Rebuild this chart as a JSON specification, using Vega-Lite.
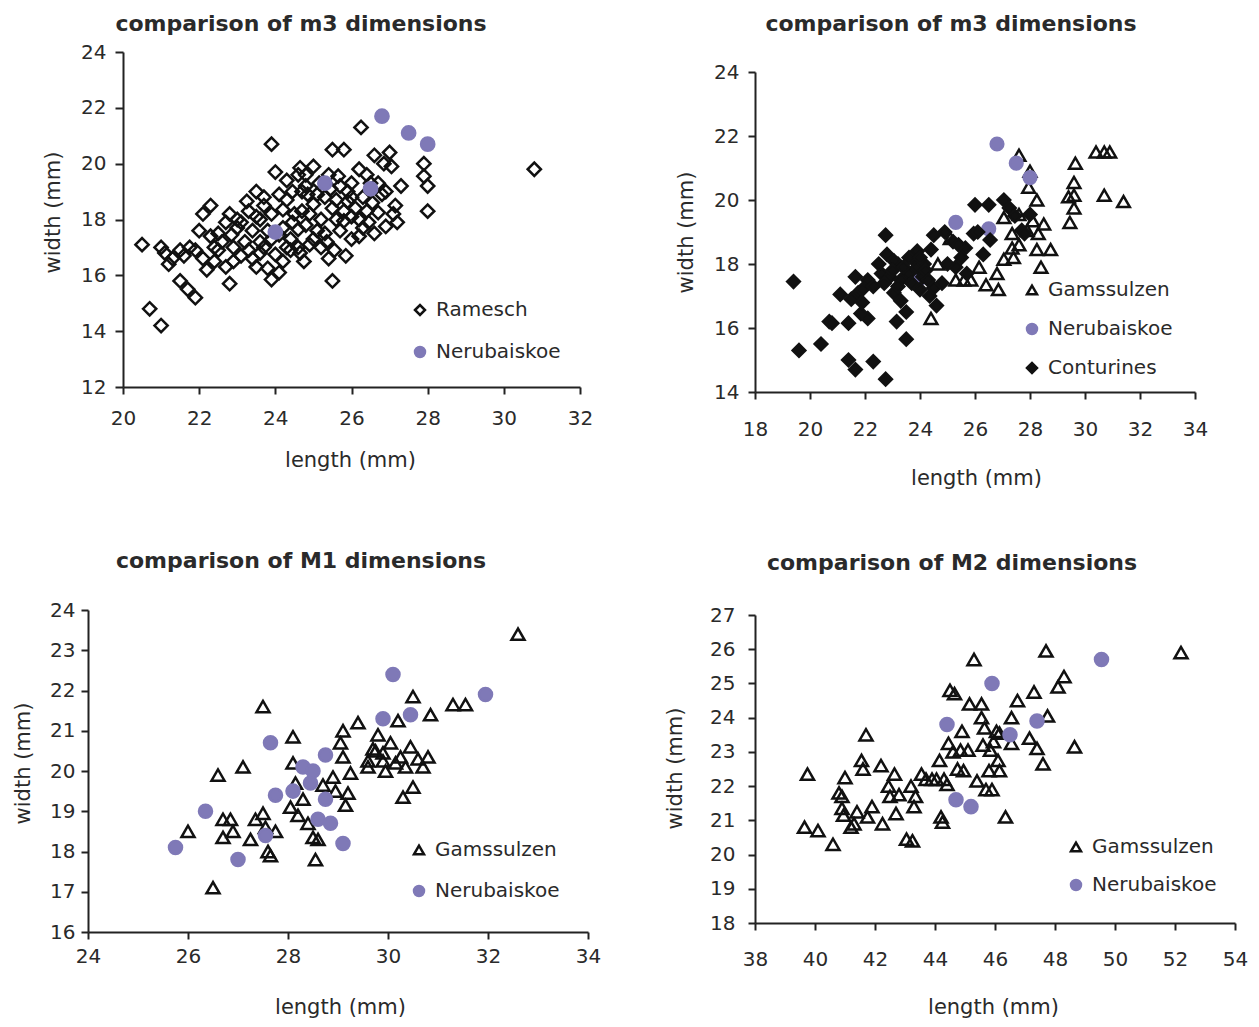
{
"$schema": "https://vega.github.io/schema/vega-lite/v6.json",
"autosize": {"type": "none"},
"padding": {"left": 88, "top": 52, "right": 1171, "bottom": 975},
"background": "white",
"config": {
  "view": {"stroke": null},
  "font": "DejaVu Sans",
  "axis": {"domainColor": "#222222", "domainWidth": 2, "tickColor": "#222222", "tickWidth": 2, "tickSize": 7, "labelFont": "DejaVu Sans", "labelFontSize": 20, "labelColor": "#2a2a2a", "titleFont": "DejaVu Sans", "titleFontSize": 21, "titleFontWeight": "normal", "titleColor": "#2a2a2a", "grid": false, "labelFlush": false, "labelOverlap": false, "titleBaseline": "middle"},
  "title": {"font": "DejaVu Sans", "fontSize": 22, "fontWeight": "bold", "color": "#2a2a2a", "anchor": "middle", "frame": "group"},
  "legend": {"orient": "none", "title": null, "labelFont": "DejaVu Sans", "labelFontSize": 20, "labelColor": "#2a2a2a", "symbolSize": 100, "symbolStrokeWidth": 2.5, "padding": 0, "labelOffset": 6}
},
"datasets": {
  "p1": [
    {"series":"Ramesch","length":20.5,"width":17.1},{"series":"Ramesch","length":20.7,"width":14.8},{"series":"Ramesch","length":21.0,"width":14.2},{"series":"Ramesch","length":21.0,"width":17.0},{"series":"Ramesch","length":21.1,"width":16.8},{"series":"Ramesch","length":21.2,"width":16.4},{"series":"Ramesch","length":21.5,"width":16.9},{"series":"Ramesch","length":21.6,"width":16.7},{"series":"Ramesch","length":21.5,"width":15.8},{"series":"Ramesch","length":21.7,"width":15.5},{"series":"Ramesch","length":21.9,"width":15.2},{"series":"Ramesch","length":21.75,"width":17.0},{"series":"Ramesch","length":22.0,"width":17.6},{"series":"Ramesch","length":22.1,"width":18.2},{"series":"Ramesch","length":22.3,"width":18.5},{"series":"Ramesch","length":22.1,"width":16.6},{"series":"Ramesch","length":22.2,"width":16.2},{"series":"Ramesch","length":22.3,"width":17.4},{"series":"Ramesch","length":22.5,"width":16.9},{"series":"Ramesch","length":22.7,"width":17.9},{"series":"Ramesch","length":22.7,"width":16.3},{"series":"Ramesch","length":22.8,"width":15.7},{"series":"Ramesch","length":22.85,"width":17.45},{"series":"Ramesch","length":23.0,"width":17.7},{"series":"Ramesch","length":23.1,"width":16.7},{"series":"Ramesch","length":23.25,"width":18.65},{"series":"Ramesch","length":23.5,"width":19.0},{"series":"Ramesch","length":23.7,"width":18.8},{"series":"Ramesch","length":23.5,"width":18.1},{"series":"Ramesch","length":23.4,"width":17.6},{"series":"Ramesch","length":23.5,"width":16.3},{"series":"Ramesch","length":23.6,"width":17.2},{"series":"Ramesch","length":23.8,"width":16.25},{"series":"Ramesch","length":23.9,"width":15.85},{"series":"Ramesch","length":23.9,"width":20.7},{"series":"Ramesch","length":24.0,"width":19.7},{"series":"Ramesch","length":24.0,"width":16.75},{"series":"Ramesch","length":24.1,"width":17.45},{"series":"Ramesch","length":24.2,"width":18.35},{"series":"Ramesch","length":24.3,"width":17.0},{"series":"Ramesch","length":24.45,"width":17.9},{"series":"Ramesch","length":24.45,"width":19.0},{"series":"Ramesch","length":24.6,"width":19.6},{"series":"Ramesch","length":24.6,"width":17.65},{"series":"Ramesch","length":24.65,"width":16.8},{"series":"Ramesch","length":24.75,"width":16.5},{"series":"Ramesch","length":24.65,"width":19.85},{"series":"Ramesch","length":24.8,"width":19.6},{"series":"Ramesch","length":24.85,"width":18.9},{"series":"Ramesch","length":24.9,"width":18.2},{"series":"Ramesch","length":25.0,"width":18.55},{"series":"Ramesch","length":25.1,"width":17.6},{"series":"Ramesch","length":25.15,"width":19.3},{"series":"Ramesch","length":25.35,"width":17.2},{"series":"Ramesch","length":25.45,"width":19.1},{"series":"Ramesch","length":25.5,"width":18.4},{"series":"Ramesch","length":25.5,"width":20.5},{"series":"Ramesch","length":25.5,"width":15.8},{"series":"Ramesch","length":25.55,"width":16.9},{"series":"Ramesch","length":25.65,"width":19.55},{"series":"Ramesch","length":25.8,"width":20.5},{"series":"Ramesch","length":25.8,"width":17.95},{"series":"Ramesch","length":25.85,"width":16.7},{"series":"Ramesch","length":25.9,"width":18.65},{"series":"Ramesch","length":26.0,"width":19.3},{"series":"Ramesch","length":26.0,"width":17.3},{"series":"Ramesch","length":26.1,"width":18.4},{"series":"Ramesch","length":26.25,"width":21.3},{"series":"Ramesch","length":26.3,"width":17.7},{"series":"Ramesch","length":26.4,"width":19.6},{"series":"Ramesch","length":26.45,"width":17.9},{"series":"Ramesch","length":26.55,"width":18.6},{"series":"Ramesch","length":26.6,"width":20.3},{"series":"Ramesch","length":26.7,"width":18.25},{"series":"Ramesch","length":26.8,"width":18.9},{"series":"Ramesch","length":26.85,"width":20.0},{"series":"Ramesch","length":26.9,"width":17.75},{"series":"Ramesch","length":27.0,"width":20.4},{"series":"Ramesch","length":27.05,"width":19.9},{"series":"Ramesch","length":27.1,"width":18.2},{"series":"Ramesch","length":27.15,"width":18.5},{"series":"Ramesch","length":27.3,"width":19.2},{"series":"Ramesch","length":27.9,"width":20.0},{"series":"Ramesch","length":27.9,"width":19.55},{"series":"Ramesch","length":28.0,"width":19.2},{"series":"Ramesch","length":28.0,"width":18.3},{"series":"Ramesch","length":30.8,"width":19.8},
    {"series":"Ramesch","length":23.2,"width":17.2},{"series":"Ramesch","length":23.3,"width":16.9},{"series":"Ramesch","length":23.6,"width":16.8},{"series":"Ramesch","length":23.8,"width":17.6},{"series":"Ramesch","length":24.2,"width":16.5},{"series":"Ramesch","length":24.4,"width":17.3},{"series":"Ramesch","length":24.7,"width":18.3},{"series":"Ramesch","length":24.9,"width":17.1},{"series":"Ramesch","length":25.2,"width":18.0},{"series":"Ramesch","length":25.3,"width":18.8},{"series":"Ramesch","length":25.6,"width":18.0},{"series":"Ramesch","length":25.7,"width":17.6},{"series":"Ramesch","length":25.9,"width":19.0},{"series":"Ramesch","length":26.2,"width":18.0},{"series":"Ramesch","length":26.0,"width":18.8},{"series":"Ramesch","length":24.3,"width":18.7},{"series":"Ramesch","length":23.9,"width":18.2},{"series":"Ramesch","length":24.8,"width":19.2},{"series":"Ramesch","length":22.5,"width":17.5},{"series":"Ramesch","length":22.9,"width":17.0},{"series":"Ramesch","length":23.0,"width":18.0},{"series":"Ramesch","length":25.0,"width":19.9},{"series":"Ramesch","length":26.5,"width":19.3},{"series":"Ramesch","length":26.2,"width":19.8},{"series":"Ramesch","length":27.2,"width":17.9},{"series":"Ramesch","length":23.7,"width":17.0},{"series":"Ramesch","length":24.1,"width":16.1},{"series":"Ramesch","length":25.4,"width":16.6},{"series":"Ramesch","length":26.6,"width":17.5},{"series":"Ramesch","length":24.5,"width":18.2},
    {"series":"Ramesch","length":22.4,"width":17.0},{"series":"Ramesch","length":22.6,"width":17.2},{"series":"Ramesch","length":22.9,"width":16.5},{"series":"Ramesch","length":23.1,"width":17.9},{"series":"Ramesch","length":23.3,"width":18.3},{"series":"Ramesch","length":23.4,"width":16.6},{"series":"Ramesch","length":23.7,"width":18.5},{"series":"Ramesch","length":23.9,"width":17.3},{"series":"Ramesch","length":24.1,"width":18.9},{"series":"Ramesch","length":24.2,"width":17.7},{"series":"Ramesch","length":24.4,"width":16.9},{"series":"Ramesch","length":24.6,"width":17.0},{"series":"Ramesch","length":24.7,"width":19.0},{"series":"Ramesch","length":24.8,"width":17.8},{"series":"Ramesch","length":25.0,"width":17.3},{"series":"Ramesch","length":25.1,"width":18.9},{"series":"Ramesch","length":25.2,"width":17.0},{"series":"Ramesch","length":25.3,"width":17.5},{"series":"Ramesch","length":25.4,"width":19.6},{"series":"Ramesch","length":25.6,"width":18.7},{"series":"Ramesch","length":25.7,"width":19.2},{"series":"Ramesch","length":25.8,"width":18.3},{"series":"Ramesch","length":26.0,"width":18.1},{"series":"Ramesch","length":26.2,"width":17.4},{"series":"Ramesch","length":26.3,"width":18.8},{"series":"Ramesch","length":26.4,"width":18.3},{"series":"Ramesch","length":26.7,"width":19.3},{"series":"Ramesch","length":26.9,"width":19.0},{"series":"Ramesch","length":24.3,"width":19.4},{"series":"Ramesch","length":23.6,"width":18.0},{"series":"Ramesch","length":22.8,"width":18.2},{"series":"Ramesch","length":22.4,"width":16.5},{"series":"Ramesch","length":21.9,"width":16.9},{"series":"Ramesch","length":21.3,"width":16.6},
    {"series":"Nerubaiskoe","length":26.8,"width":21.7},{"series":"Nerubaiskoe","length":27.5,"width":21.1},{"series":"Nerubaiskoe","length":28.0,"width":20.7},{"series":"Nerubaiskoe","length":25.3,"width":19.3},{"series":"Nerubaiskoe","length":26.5,"width":19.1},{"series":"Nerubaiskoe","length":24.0,"width":17.55}
  ],
  "p2": [
    {"series":"Gamssulzen","length":24.4,"width":16.3},{"series":"Gamssulzen","length":24.65,"width":18.0},{"series":"Gamssulzen","length":25.1,"width":18.8},{"series":"Gamssulzen","length":25.3,"width":17.5},{"series":"Gamssulzen","length":25.6,"width":17.5},{"series":"Gamssulzen","length":25.85,"width":17.5},{"series":"Gamssulzen","length":26.15,"width":17.9},{"series":"Gamssulzen","length":26.4,"width":17.35},{"series":"Gamssulzen","length":26.85,"width":17.2},{"series":"Gamssulzen","length":26.8,"width":17.7},{"series":"Gamssulzen","length":27.05,"width":18.15},{"series":"Gamssulzen","length":27.05,"width":19.45},{"series":"Gamssulzen","length":27.35,"width":18.5},{"series":"Gamssulzen","length":27.35,"width":18.95},{"series":"Gamssulzen","length":27.6,"width":19.55},{"series":"Gamssulzen","length":27.6,"width":18.6},{"series":"Gamssulzen","length":27.9,"width":19.05},{"series":"Gamssulzen","length":28.1,"width":19.35},{"series":"Gamssulzen","length":28.25,"width":20.0},{"series":"Gamssulzen","length":28.3,"width":18.95},{"series":"Gamssulzen","length":28.25,"width":18.45},{"series":"Gamssulzen","length":28.4,"width":17.9},{"series":"Gamssulzen","length":28.75,"width":18.45},{"series":"Gamssulzen","length":29.4,"width":20.1},{"series":"Gamssulzen","length":29.45,"width":19.3},{"series":"Gamssulzen","length":29.6,"width":19.75},{"series":"Gamssulzen","length":29.6,"width":20.55},{"series":"Gamssulzen","length":29.65,"width":21.15},{"series":"Gamssulzen","length":29.6,"width":20.15},{"series":"Gamssulzen","length":30.4,"width":21.5},{"series":"Gamssulzen","length":30.7,"width":21.5},{"series":"Gamssulzen","length":30.9,"width":21.5},{"series":"Gamssulzen","length":30.7,"width":20.15},{"series":"Gamssulzen","length":31.4,"width":19.95},{"series":"Gamssulzen","length":28.5,"width":19.25},{"series":"Gamssulzen","length":27.95,"width":20.4},{"series":"Gamssulzen","length":27.4,"width":18.2},{"series":"Gamssulzen","length":27.6,"width":21.4},{"series":"Gamssulzen","length":28.0,"width":20.9},
    {"series":"Nerubaiskoe","length":26.8,"width":21.75},{"series":"Nerubaiskoe","length":27.5,"width":21.15},{"series":"Nerubaiskoe","length":28.0,"width":20.7},{"series":"Nerubaiskoe","length":25.3,"width":19.3},{"series":"Nerubaiskoe","length":26.5,"width":19.1},{"series":"Nerubaiskoe","length":24.0,"width":17.55},
    {"series":"Conturines","length":19.4,"width":17.45},{"series":"Conturines","length":19.6,"width":15.3},{"series":"Conturines","length":20.4,"width":15.5},{"series":"Conturines","length":20.7,"width":16.2},{"series":"Conturines","length":20.8,"width":16.15},{"series":"Conturines","length":21.1,"width":17.05},{"series":"Conturines","length":21.4,"width":15.0},{"series":"Conturines","length":21.4,"width":16.15},{"series":"Conturines","length":21.65,"width":14.7},{"series":"Conturines","length":21.65,"width":17.6},{"series":"Conturines","length":21.5,"width":16.9},{"series":"Conturines","length":21.85,"width":16.45},{"series":"Conturines","length":22.1,"width":16.3},{"series":"Conturines","length":22.3,"width":14.95},{"series":"Conturines","length":22.1,"width":17.5},{"series":"Conturines","length":21.75,"width":17.1},{"series":"Conturines","length":22.75,"width":14.4},{"series":"Conturines","length":22.75,"width":18.9},{"series":"Conturines","length":22.6,"width":17.7},{"series":"Conturines","length":23.15,"width":16.2},{"series":"Conturines","length":23.5,"width":15.65},{"series":"Conturines","length":23.2,"width":18.0},{"series":"Conturines","length":23.05,"width":17.1},{"series":"Conturines","length":23.3,"width":16.85},{"series":"Conturines","length":23.5,"width":16.5},{"series":"Conturines","length":23.6,"width":17.7},{"series":"Conturines","length":23.8,"width":18.1},{"series":"Conturines","length":23.9,"width":18.4},{"series":"Conturines","length":23.9,"width":17.9},{"series":"Conturines","length":24.1,"width":17.6},{"series":"Conturines","length":24.0,"width":17.2},{"series":"Conturines","length":24.15,"width":18.0},{"series":"Conturines","length":24.4,"width":18.45},{"series":"Conturines","length":24.35,"width":17.0},{"series":"Conturines","length":24.6,"width":16.7},{"series":"Conturines","length":24.5,"width":17.25},{"series":"Conturines","length":24.9,"width":19.0},{"series":"Conturines","length":25.2,"width":18.7},{"series":"Conturines","length":25.3,"width":17.9},{"series":"Conturines","length":25.5,"width":18.2},{"series":"Conturines","length":25.65,"width":18.5},{"series":"Conturines","length":25.7,"width":17.7},{"series":"Conturines","length":26.0,"width":19.85},{"series":"Conturines","length":25.95,"width":18.95},{"series":"Conturines","length":26.3,"width":18.3},{"series":"Conturines","length":26.5,"width":19.85},{"series":"Conturines","length":26.55,"width":18.75},{"series":"Conturines","length":27.05,"width":20.0},{"series":"Conturines","length":27.25,"width":19.75},{"series":"Conturines","length":27.45,"width":19.5},{"series":"Conturines","length":27.7,"width":19.05},{"series":"Conturines","length":27.8,"width":18.95},{"series":"Conturines","length":28.0,"width":19.55},{"series":"Conturines","length":22.8,"width":18.3},{"series":"Conturines","length":23.05,"width":18.1},{"series":"Conturines","length":21.9,"width":17.2},{"series":"Conturines","length":22.5,"width":18.0},{"series":"Conturines","length":24.2,"width":17.8},{"series":"Conturines","length":25.0,"width":18.0},{"series":"Conturines","length":22.9,"width":17.6},{"series":"Conturines","length":23.3,"width":17.5},{"series":"Conturines","length":23.6,"width":18.2},{"series":"Conturines","length":22.3,"width":17.3},{"series":"Conturines","length":24.5,"width":18.9},{"series":"Conturines","length":25.4,"width":18.6},{"series":"Conturines","length":26.1,"width":19.0},{"series":"Conturines","length":24.8,"width":17.4},{"series":"Conturines","length":21.9,"width":16.8},{"series":"Conturines","length":23.0,"width":17.8},{"series":"Conturines","length":23.4,"width":17.9},{"series":"Conturines","length":23.7,"width":17.4},{"series":"Conturines","length":22.7,"width":17.4},{"series":"Conturines","length":24.3,"width":17.5},{"series":"Conturines","length":23.2,"width":17.3},{"series":"Conturines","length":24.0,"width":18.2}
  ],
  "p3": [
    {"series":"Gamssulzen","length":26.0,"width":18.5},{"series":"Gamssulzen","length":26.5,"width":17.1},{"series":"Gamssulzen","length":26.6,"width":19.9},{"series":"Gamssulzen","length":26.7,"width":18.8},{"series":"Gamssulzen","length":26.7,"width":18.35},{"series":"Gamssulzen","length":26.85,"width":18.8},{"series":"Gamssulzen","length":26.9,"width":18.5},{"series":"Gamssulzen","length":27.1,"width":20.1},{"series":"Gamssulzen","length":27.25,"width":18.3},{"series":"Gamssulzen","length":27.35,"width":18.8},{"series":"Gamssulzen","length":27.5,"width":21.6},{"series":"Gamssulzen","length":27.5,"width":18.95},{"series":"Gamssulzen","length":27.55,"width":18.6},{"series":"Gamssulzen","length":27.6,"width":18.0},{"series":"Gamssulzen","length":27.65,"width":17.9},{"series":"Gamssulzen","length":27.75,"width":18.5},{"series":"Gamssulzen","length":28.05,"width":19.1},{"series":"Gamssulzen","length":28.1,"width":20.85},{"series":"Gamssulzen","length":28.1,"width":20.2},{"series":"Gamssulzen","length":28.15,"width":19.7},{"series":"Gamssulzen","length":28.2,"width":18.9},{"series":"Gamssulzen","length":28.3,"width":19.3},{"series":"Gamssulzen","length":28.4,"width":18.7},{"series":"Gamssulzen","length":28.5,"width":18.35},{"series":"Gamssulzen","length":28.55,"width":17.8},{"series":"Gamssulzen","length":28.6,"width":18.3},{"series":"Gamssulzen","length":28.7,"width":19.65},{"series":"Gamssulzen","length":28.9,"width":19.85},{"series":"Gamssulzen","length":28.95,"width":19.5},{"series":"Gamssulzen","length":29.05,"width":20.7},{"series":"Gamssulzen","length":29.1,"width":21.0},{"series":"Gamssulzen","length":29.1,"width":20.35},{"series":"Gamssulzen","length":29.15,"width":19.15},{"series":"Gamssulzen","length":29.2,"width":19.45},{"series":"Gamssulzen","length":29.25,"width":19.95},{"series":"Gamssulzen","length":29.4,"width":21.2},{"series":"Gamssulzen","length":29.6,"width":20.25},{"series":"Gamssulzen","length":29.7,"width":20.55},{"series":"Gamssulzen","length":29.8,"width":20.9},{"series":"Gamssulzen","length":29.9,"width":20.25},{"series":"Gamssulzen","length":29.95,"width":20.0},{"series":"Gamssulzen","length":30.05,"width":20.7},{"series":"Gamssulzen","length":30.15,"width":20.2},{"series":"Gamssulzen","length":30.2,"width":21.25},{"series":"Gamssulzen","length":30.25,"width":20.35},{"series":"Gamssulzen","length":30.3,"width":19.35},{"series":"Gamssulzen","length":30.35,"width":20.1},{"series":"Gamssulzen","length":30.45,"width":20.6},{"series":"Gamssulzen","length":30.5,"width":19.6},{"series":"Gamssulzen","length":30.5,"width":21.85},{"series":"Gamssulzen","length":30.6,"width":20.3},{"series":"Gamssulzen","length":30.7,"width":20.1},{"series":"Gamssulzen","length":30.8,"width":20.35},{"series":"Gamssulzen","length":30.85,"width":21.4},{"series":"Gamssulzen","length":31.3,"width":21.65},{"series":"Gamssulzen","length":31.55,"width":21.65},{"series":"Gamssulzen","length":32.6,"width":23.4},{"series":"Gamssulzen","length":29.6,"width":20.1},{"series":"Gamssulzen","length":29.75,"width":20.5},{"series":"Gamssulzen","length":29.9,"width":20.45},
    {"series":"Nerubaiskoe","length":25.75,"width":18.1},{"series":"Nerubaiskoe","length":26.35,"width":19.0},{"series":"Nerubaiskoe","length":27.0,"width":17.8},{"series":"Nerubaiskoe","length":27.55,"width":18.4},{"series":"Nerubaiskoe","length":27.65,"width":20.7},{"series":"Nerubaiskoe","length":27.75,"width":19.4},{"series":"Nerubaiskoe","length":28.1,"width":19.5},{"series":"Nerubaiskoe","length":28.3,"width":20.1},{"series":"Nerubaiskoe","length":28.45,"width":19.7},{"series":"Nerubaiskoe","length":28.5,"width":20.0},{"series":"Nerubaiskoe","length":28.6,"width":18.8},{"series":"Nerubaiskoe","length":28.75,"width":20.4},{"series":"Nerubaiskoe","length":28.75,"width":19.3},{"series":"Nerubaiskoe","length":28.85,"width":18.7},{"series":"Nerubaiskoe","length":29.1,"width":18.2},{"series":"Nerubaiskoe","length":29.9,"width":21.3},{"series":"Nerubaiskoe","length":30.1,"width":22.4},{"series":"Nerubaiskoe","length":30.45,"width":21.4},{"series":"Nerubaiskoe","length":31.95,"width":21.9}
  ],
  "p4": [
    {"series":"Gamssulzen","length":39.75,"width":22.35},{"series":"Gamssulzen","length":39.65,"width":20.8},{"series":"Gamssulzen","length":40.1,"width":20.7},{"series":"Gamssulzen","length":40.6,"width":20.3},{"series":"Gamssulzen","length":40.8,"width":21.8},{"series":"Gamssulzen","length":40.9,"width":21.35},{"series":"Gamssulzen","length":40.95,"width":21.15},{"series":"Gamssulzen","length":41.0,"width":22.25},{"series":"Gamssulzen","length":40.9,"width":21.7},{"series":"Gamssulzen","length":41.2,"width":20.8},{"series":"Gamssulzen","length":41.3,"width":20.9},{"series":"Gamssulzen","length":41.4,"width":21.25},{"series":"Gamssulzen","length":41.55,"width":22.75},{"series":"Gamssulzen","length":41.6,"width":22.5},{"series":"Gamssulzen","length":41.7,"width":23.5},{"series":"Gamssulzen","length":41.75,"width":21.1},{"series":"Gamssulzen","length":41.9,"width":21.4},{"series":"Gamssulzen","length":42.2,"width":22.6},{"series":"Gamssulzen","length":42.25,"width":20.9},{"series":"Gamssulzen","length":42.45,"width":22.0},{"series":"Gamssulzen","length":42.5,"width":21.7},{"series":"Gamssulzen","length":42.65,"width":22.35},{"series":"Gamssulzen","length":42.7,"width":21.2},{"series":"Gamssulzen","length":42.8,"width":21.75},{"series":"Gamssulzen","length":43.05,"width":20.45},{"series":"Gamssulzen","length":43.25,"width":20.4},{"series":"Gamssulzen","length":43.2,"width":22.0},{"series":"Gamssulzen","length":43.3,"width":21.4},{"series":"Gamssulzen","length":43.35,"width":21.7},{"series":"Gamssulzen","length":43.55,"width":22.35},{"series":"Gamssulzen","length":43.7,"width":22.2},{"series":"Gamssulzen","length":43.9,"width":22.2},{"series":"Gamssulzen","length":44.05,"width":22.2},{"series":"Gamssulzen","length":44.15,"width":22.75},{"series":"Gamssulzen","length":44.2,"width":21.1},{"series":"Gamssulzen","length":44.25,"width":20.95},{"series":"Gamssulzen","length":44.3,"width":22.2},{"series":"Gamssulzen","length":44.4,"width":22.05},{"series":"Gamssulzen","length":44.45,"width":23.25},{"series":"Gamssulzen","length":44.5,"width":24.8},{"series":"Gamssulzen","length":44.6,"width":23.0},{"series":"Gamssulzen","length":44.65,"width":24.7},{"series":"Gamssulzen","length":44.75,"width":22.5},{"series":"Gamssulzen","length":44.85,"width":23.05},{"series":"Gamssulzen","length":44.9,"width":23.6},{"series":"Gamssulzen","length":44.95,"width":22.45},{"series":"Gamssulzen","length":45.1,"width":23.05},{"series":"Gamssulzen","length":45.15,"width":24.4},{"series":"Gamssulzen","length":45.3,"width":25.7},{"series":"Gamssulzen","length":45.4,"width":22.15},{"series":"Gamssulzen","length":45.55,"width":24.4},{"series":"Gamssulzen","length":45.55,"width":24.0},{"series":"Gamssulzen","length":45.6,"width":23.2},{"series":"Gamssulzen","length":45.65,"width":23.7},{"series":"Gamssulzen","length":45.7,"width":21.9},{"series":"Gamssulzen","length":45.8,"width":22.45},{"series":"Gamssulzen","length":45.85,"width":23.05},{"series":"Gamssulzen","length":45.9,"width":21.9},{"series":"Gamssulzen","length":45.95,"width":23.3},{"series":"Gamssulzen","length":46.05,"width":23.6},{"series":"Gamssulzen","length":46.1,"width":22.75},{"series":"Gamssulzen","length":46.15,"width":22.45},{"series":"Gamssulzen","length":46.35,"width":21.1},{"series":"Gamssulzen","length":46.55,"width":23.25},{"series":"Gamssulzen","length":46.55,"width":24.0},{"series":"Gamssulzen","length":46.75,"width":24.5},{"series":"Gamssulzen","length":47.15,"width":23.4},{"series":"Gamssulzen","length":47.3,"width":24.75},{"series":"Gamssulzen","length":47.4,"width":23.1},{"series":"Gamssulzen","length":47.6,"width":22.65},{"series":"Gamssulzen","length":47.7,"width":25.95},{"series":"Gamssulzen","length":47.75,"width":24.05},{"series":"Gamssulzen","length":48.1,"width":24.9},{"series":"Gamssulzen","length":48.3,"width":25.2},{"series":"Gamssulzen","length":48.65,"width":23.15},{"series":"Gamssulzen","length":52.2,"width":25.9},{"series":"Gamssulzen","length":46.15,"width":23.55},
    {"series":"Nerubaiskoe","length":44.4,"width":23.8},{"series":"Nerubaiskoe","length":44.7,"width":21.6},{"series":"Nerubaiskoe","length":45.2,"width":21.4},{"series":"Nerubaiskoe","length":45.9,"width":25.0},{"series":"Nerubaiskoe","length":46.5,"width":23.5},{"series":"Nerubaiskoe","length":47.4,"width":23.9},{"series":"Nerubaiskoe","length":49.55,"width":25.7}
  ]
},
"columns": 2,
"bounds": "flush",
"spacing": {"row": 218, "column": 167},
"resolve": {"scale": {"x": "independent", "y": "independent", "shape": "independent", "fill": "independent", "stroke": "independent"}, "legend": {"shape": "independent", "fill": "independent", "stroke": "independent"}},
"concat": [
  {
    "data": {"name": "p1"},
    "width": 492, "height": 335,
    "title": {"text": "comparison of m3 dimensions", "dx": -33, "offset": 6},
    "mark": {"type": "point", "size": 175, "strokeWidth": 2.5, "opacity": 1},
    "encoding": {
      "x": {"field": "length", "type": "quantitative", "scale": {"domain": [20, 32], "range": [35, 492], "nice": false, "zero": false}, "axis": {"title": "length (mm)", "values": [20,22,24,26,28,30,32], "labelPadding": 14, "titleX": 262, "titleY": 73}},
      "y": {"field": "width", "type": "quantitative", "scale": {"domain": [12, 24], "nice": false, "zero": false}, "axis": {"title": "width (mm)", "values": [12,14,16,18,20,22,24], "offset": -35, "tickSize": 8, "labelPadding": 9, "titleX": -70, "titleY": 160}},
      "shape": {"field": "series", "type": "nominal", "scale": {"domain": ["Ramesch", "Nerubaiskoe"], "range": ["diamond", "circle"]}, "legend": {"legendX": 322, "legendY": 248, "rowPadding": 22}},
      "fill": {"field": "series", "type": "nominal", "scale": {"domain": ["Ramesch", "Nerubaiskoe"], "range": ["transparent", "#7f79b7"]}, "legend": {"legendX": 322, "legendY": 248, "rowPadding": 22}},
      "stroke": {"field": "series", "type": "nominal", "scale": {"domain": ["Ramesch", "Nerubaiskoe"], "range": ["#111111", "#7f79b7"]}, "legend": {"legendX": 322, "legendY": 248, "rowPadding": 22}}
    }
  },
  {
    "data": {"name": "p2"},
    "width": 440, "height": 340,
    "title": {"text": "comparison of m3 dimensions", "dx": -24, "offset": 16},
    "mark": {"type": "point", "size": 160, "strokeWidth": 2.5, "opacity": 1},
    "encoding": {
      "x": {"field": "length", "type": "quantitative", "scale": {"domain": [18, 34], "nice": false, "zero": false}, "axis": {"title": "length (mm)", "values": [18,20,22,24,26,28,30,32,34], "labelPadding": 20, "titleX": 221, "titleY": 86}},
      "y": {"field": "width", "type": "quantitative", "scale": {"domain": [14, 24], "range": [340, 20], "nice": false, "zero": false}, "axis": {"title": "width (mm)", "values": [14,16,18,20,22,24], "tickSize": 7, "labelPadding": 9, "titleX": -69, "titleY": 180}},
      "shape": {"field": "series", "type": "nominal", "scale": {"domain": ["Gamssulzen", "Nerubaiskoe", "Conturines"], "range": ["triangle-up", "circle", "diamond"]}, "legend": {"legendX": 267, "legendY": 228, "rowPadding": 19}},
      "fill": {"field": "series", "type": "nominal", "scale": {"domain": ["Gamssulzen", "Nerubaiskoe", "Conturines"], "range": ["transparent", "#7f79b7", "#111111"]}, "legend": {"legendX": 267, "legendY": 228, "rowPadding": 19}},
      "stroke": {"field": "series", "type": "nominal", "scale": {"domain": ["Gamssulzen", "Nerubaiskoe", "Conturines"], "range": ["#111111", "#7f79b7", "#111111"]}, "legend": {"legendX": 267, "legendY": 228, "rowPadding": 19}}
    }
  },
  {
    "data": {"name": "p3"},
    "width": 500, "height": 322,
    "title": {"text": "comparison of M1 dimensions", "dx": -37, "offset": 27},
    "mark": {"type": "point", "size": 170, "strokeWidth": 2.5, "opacity": 1},
    "encoding": {
      "x": {"field": "length", "type": "quantitative", "scale": {"domain": [24, 34], "nice": false, "zero": false}, "axis": {"title": "length (mm)", "values": [24,26,28,30,32,34], "labelPadding": 7, "titleX": 252, "titleY": 75}},
      "y": {"field": "width", "type": "quantitative", "scale": {"domain": [16, 24], "nice": false, "zero": false}, "axis": {"title": "width (mm)", "values": [16,17,18,19,20,21,22,23,24], "tickSize": 7, "labelPadding": 6, "titleX": -65, "titleY": 153}},
      "shape": {"field": "series", "type": "nominal", "scale": {"domain": ["Gamssulzen", "Nerubaiskoe"], "range": ["triangle-up", "circle"]}, "legend": {"legendX": 321, "legendY": 230, "rowPadding": 21}},
      "fill": {"field": "series", "type": "nominal", "scale": {"domain": ["Gamssulzen", "Nerubaiskoe"], "range": ["transparent", "#7f79b7"]}, "legend": {"legendX": 321, "legendY": 230, "rowPadding": 21}},
      "stroke": {"field": "series", "type": "nominal", "scale": {"domain": ["Gamssulzen", "Nerubaiskoe"], "range": ["#111111", "#7f79b7"]}, "legend": {"legendX": 321, "legendY": 230, "rowPadding": 21}}
    }
  },
  {
    "data": {"name": "p4"},
    "width": 480, "height": 313,
    "title": {"text": "comparison of M2 dimensions", "dx": -43, "offset": 30},
    "mark": {"type": "point", "size": 170, "strokeWidth": 2.5, "opacity": 1},
    "encoding": {
      "x": {"field": "length", "type": "quantitative", "scale": {"domain": [38, 54], "nice": false, "zero": false}, "axis": {"title": "length (mm)", "values": [38,40,42,44,46,48,50,52,54], "labelPadding": 19, "titleX": 238, "titleY": 84}},
      "y": {"field": "width", "type": "quantitative", "scale": {"domain": [18, 27], "range": [313, 5], "nice": false, "zero": false}, "axis": {"title": "width (mm)", "values": [18,19,20,21,22,23,24,25,26,27], "tickSize": 7, "labelPadding": 13, "titleX": -80, "titleY": 158}},
      "shape": {"field": "series", "type": "nominal", "scale": {"domain": ["Gamssulzen", "Nerubaiskoe"], "range": ["triangle-up", "circle"]}, "legend": {"legendX": 311, "legendY": 227, "rowPadding": 18}},
      "fill": {"field": "series", "type": "nominal", "scale": {"domain": ["Gamssulzen", "Nerubaiskoe"], "range": ["transparent", "#7f79b7"]}, "legend": {"legendX": 311, "legendY": 227, "rowPadding": 18}},
      "stroke": {"field": "series", "type": "nominal", "scale": {"domain": ["Gamssulzen", "Nerubaiskoe"], "range": ["#111111", "#7f79b7"]}, "legend": {"legendX": 311, "legendY": 227, "rowPadding": 18}}
    }
  }
]
}
